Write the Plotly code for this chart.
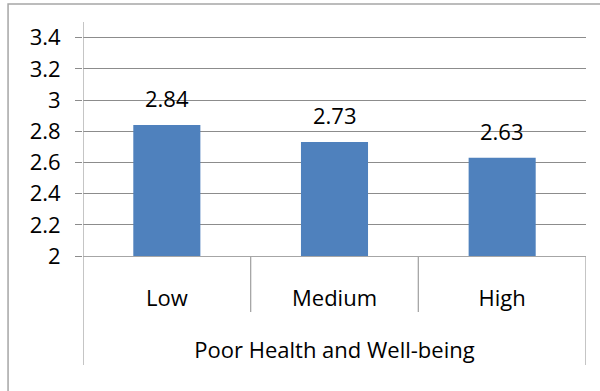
import plotly.graph_objects as go

# Mean score by level of poor health and well-being
categories = ["Low", "Medium", "High"]
values = [2.84, 2.73, 2.63]
group_label = "Poor Health and Well-being"
y_ticks = [2.0, 2.2, 2.4, 2.6, 2.8, 3.0, 3.2, 3.4]
y_tick_text = ["2", "2.2", "2.4", "2.6", "2.8", "3", "3.2", "3.4"]

FONT = "Open Sans"
FONT_SIZE = 22
BAR_COLOR = "#4F81BD"
GRID_COLOR = "#8C8C8C"
FRAME_COLOR = "#A6A6A6"

fig = go.Figure(
    go.Bar(
        x=categories,
        y=values,
        marker=dict(color=BAR_COLOR, line=dict(width=0)),
        width=0.4,
        hoverinfo="skip",
    )
)

# value labels above the bars
for c, v in zip(categories, values):
    fig.add_annotation(
        x=c, y=v, text=f"{v:.2f}", showarrow=False,
        yanchor="bottom", yshift=10,
        font=dict(family=FONT, size=FONT_SIZE, color="#000000"),
    )

# category dividers below the axis (multi-level axis look)
n = len(categories)
for i in range(n + 1):
    edge = i == 0 or i == n
    fig.add_shape(
        type="line", xref="x", yref="paper",
        x0=i - 0.5, x1=i - 0.5,
        y0=1 if i == 0 else 0, y1=-0.466 if edge else -0.239,
        line=dict(color=FRAME_COLOR, width=1.3),
    )

# outer chart frame
fig.add_shape(
    type="rect", xref="paper", yref="paper",
    x0=-0.149, x1=1.1, y0=-0.6, y1=1.077,
    line=dict(color=FRAME_COLOR, width=1.5),
    fillcolor="rgba(0,0,0,0)",
)

fig.update_layout(
    width=600, height=391,
    margin=dict(l=83, r=14, t=22, b=135),
    paper_bgcolor="white", plot_bgcolor="white",
    showlegend=False,
    font=dict(family=FONT, size=FONT_SIZE, color="#000000"),
    xaxis=dict(
        range=[-0.5, n - 0.5],
        showgrid=False,
        showline=True, linecolor=FRAME_COLOR, linewidth=1.3,
        ticks="", ticklabelstandoff=22,
        tickfont=dict(family=FONT, size=FONT_SIZE),
        title=dict(text=group_label, standoff=32,
                   font=dict(family=FONT, size=FONT_SIZE)),
        fixedrange=True,
    ),
    yaxis=dict(
        range=[2.0, 3.5],
        tickvals=y_ticks, ticktext=y_tick_text,
        showgrid=True, gridcolor=GRID_COLOR, gridwidth=1,
        zeroline=False,
        showline=False,
        ticks="outside", ticklen=7, tickcolor=GRID_COLOR, tickwidth=1,
        ticklabelstandoff=10,
        tickfont=dict(family=FONT, size=FONT_SIZE),
        fixedrange=True,
    ),
)

fig.write_html("out.html")
